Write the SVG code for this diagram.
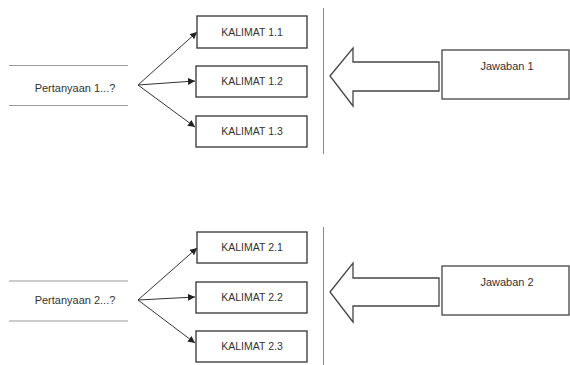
<svg xmlns="http://www.w3.org/2000/svg" width="570" height="365" viewBox="0 0 570 365">
<defs>
<marker id="ah" viewBox="0 0 10 10" refX="10" refY="5" markerWidth="7" markerHeight="7" markerUnits="userSpaceOnUse" orient="auto">
<path d="M0,0 L10,5 L0,10 z" fill="#222"/>
</marker>
</defs>
<style>
.box{fill:#fff;stroke:#333;stroke-width:1.3}
.big{fill:#fff;stroke:#444;stroke-width:1.3}
.rule{stroke:#999;stroke-width:1.2}
.sep{stroke:#888;stroke-width:1}
.fan{stroke:#333;stroke-width:1;fill:none;marker-end:url(#ah)}
text{font-family:"Liberation Sans",Arial,sans-serif;fill:#333}
.k{font-size:10.5px;text-anchor:middle}
.q{font-size:11px;text-anchor:middle}
</style>
<rect width="570" height="365" fill="#fff"/>

<g id="q1">
<line class="rule" x1="9" y1="65.5" x2="128" y2="65.5"/>
<line class="rule" x1="9" y1="105.5" x2="128" y2="105.5"/>
<text class="q" x="75" y="92">Pertanyaan 1...?</text>
</g>
<g id="k11"><rect class="box" x="197" y="16" width="110" height="32"/><text class="k" x="252" y="35.5">KALIMAT 1.1</text></g>
<g id="k12"><rect class="box" x="196" y="66" width="111" height="31"/><text class="k" x="252" y="85">KALIMAT 1.2</text></g>
<g id="k13"><rect class="box" x="196" y="116" width="111" height="31"/><text class="k" x="252" y="135">KALIMAT 1.3</text></g>
<g id="sep1"><line class="sep" x1="323.5" y1="8" x2="323.5" y2="154"/></g>
<g id="arrow1"><path class="big" d="M330,76 L353,48 L353,62 L439,62 L439,91 L353,91 L353,106 Z"/></g>
<g id="j1"><rect class="big" x="442" y="50" width="127" height="49"/><text class="q" x="507" y="70">Jawaban 1</text></g>

<g id="q2">
<line class="rule" x1="9" y1="281" x2="128" y2="281"/>
<line class="rule" x1="9" y1="321" x2="128" y2="321"/>
<text class="q" x="75" y="304">Pertanyaan 2...?</text>
</g>
<g id="k21"><rect class="box" x="197" y="232" width="110" height="31"/><text class="k" x="252" y="251">KALIMAT 2.1</text></g>
<g id="k22"><rect class="box" x="196" y="282" width="111" height="31"/><text class="k" x="252" y="301">KALIMAT 2.2</text></g>
<g id="k23"><rect class="box" x="196" y="331" width="111" height="31"/><text class="k" x="252" y="350">KALIMAT 2.3</text></g>
<g id="sep2"><line class="sep" x1="323.5" y1="227" x2="323.5" y2="365"/></g>
<g id="arrow2"><path class="big" d="M330,292 L353,263 L353,278 L439,278 L439,306 L353,306 L353,322 Z"/></g>
<g id="j2"><rect class="big" x="442" y="266" width="127" height="49"/><text class="q" x="507" y="286">Jawaban 2</text></g>

<g id="connectors">
<line class="fan" x1="138" y1="85" x2="197" y2="32"/>
<line class="fan" x1="138" y1="85" x2="195" y2="81"/>
<line class="fan" x1="138" y1="85" x2="195" y2="127"/>
<line class="fan" x1="138" y1="300" x2="197" y2="248"/>
<line class="fan" x1="138" y1="300" x2="195" y2="297"/>
<line class="fan" x1="138" y1="300" x2="195" y2="343"/>
</g>
</svg>
